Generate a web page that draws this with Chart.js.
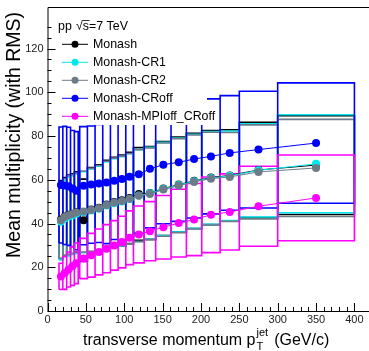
<!DOCTYPE html>
<html>
<head>
<meta charset="utf-8">
<script src="https://cdn.jsdelivr.net/npm/chart.js@4.4.0/dist/chart.umd.min.js"></script>
<style>
  html, body { margin: 0; padding: 0; background: #fff; }
  #wrap { width: 369px; height: 351px; }
</style>
</head>
<body>
<div id="wrap"><canvas id="chart" width="369" height="351"></canvas></div>
<script>
// jet pT bins (GeV/c)
const binLow  = [15, 20, 25, 30, 35, 42, 52, 62, 72, 82, 92, 102, 112, 126, 141, 161, 181, 201, 225, 250, 300];
const binHigh = [20, 25, 30, 35, 40, 52, 62, 72, 82, 92, 102, 112, 126, 141, 161, 181, 201, 225, 250, 300, 400];

// mean multiplicity and RMS per tune
const meanMonash = [41.8, 43.2, 44.0, 44.5, 45.2, 41.5, 46.4, 47.2, 48.7, 49.8, 50.6, 51.7, 53.5, 54.0, 56.0, 57.8, 59.5, 61.0, 62.0, 64.5, 66.7];
const rmsMonash  = [17.8, 17.8, 18.2, 18.2, 18.4, 18.8, 19.2, 19.6, 20.2, 20.5, 20.7, 20.9, 21.2, 21.2, 21.5, 21.7, 21.8, 21.5, 20.8, 21.8, 22.6];
const meanCR1 = [40.8, 42.3, 43.2, 43.8, 44.5, 45.2, 46.0, 46.8, 48.2, 49.3, 50.1, 51.2, 52.8, 53.8, 55.8, 57.6, 59.3, 60.8, 61.8, 64.3, 67.3];
const rmsCR1  = [17.5, 17.5, 18.0, 18.0, 18.2, 18.5, 19.0, 19.4, 20.0, 20.3, 20.5, 20.7, 21.0, 21.0, 21.3, 21.5, 21.5, 21.2, 20.5, 21.3, 22.4];
const meanCR2 = [41.5, 43.0, 43.8, 44.3, 45.0, 45.5, 46.2, 47.0, 48.5, 49.6, 50.3, 51.3, 52.7, 53.5, 55.5, 57.3, 59.0, 60.5, 61.3, 63.6, 65.4];
const rmsCR2  = [17.5, 17.5, 18.0, 18.0, 18.0, 18.5, 19.0, 19.5, 20.0, 20.3, 20.5, 20.7, 21.0, 21.0, 21.3, 21.5, 21.5, 21.2, 20.3, 21.5, 22.2];
const meanCRoff = [57.6, 57.4, 57.0, 56.0, 55.0, 57.3, 57.8, 58.3, 58.8, 59.5, 60.4, 61.4, 62.5, 65.0, 66.9, 68.0, 69.5, 70.7, 72.3, 73.8, 76.8];
const rmsCRoff  = [26.5, 27.0, 27.0, 26.5, 27.0, 27.0, 26.8, 27.0, 28.0, 26.8, 28.0, 27.0, 27.0, 27.0, 27.0, 27.0, 27.0, 26.3, 26.2, 26.7, 27.5];
const meanMPIoff = [15.8, 17.4, 19.0, 20.5, 21.8, 24.0, 25.5, 27.0, 28.5, 30.0, 31.5, 33.5, 35.0, 36.5, 38.3, 40.2, 41.8, 44.0, 45.3, 47.9, 51.7];
const rmsMPIoff  = [6.0, 7.5, 8.0, 8.8, 9.3, 9.2, 10.0, 10.5, 11.0, 11.3, 11.8, 12.3, 13.0, 13.5, 14.5, 15.5, 16.5, 17.3, 17.4, 18.3, 19.6];

const tuneNames = ["Monash", "Monash-CR1", "Monash-CR2", "Monash-CRoff", "Monash-MPIoff_CRoff"];
const tuneColors = ["#000000", "#00eaf0", "#6d7b88", "#0000ff", "#ff00ff"];
const tuneMeans = [meanMonash, meanCR1, meanCR2, meanCRoff, meanMPIoff];
const tuneRms = [rmsMonash, rmsCR1, rmsCR2, rmsCRoff, rmsMPIoff];

const xTickLabels = [0, 50, 100, 150, 200, 250, 300, 350, 400];
const yTickLabels = [0, 20, 40, 60, 80, 100, 120];

const FONT = "'Liberation Sans', Arial, sans-serif";

// mean +- RMS rectangles, one closed outline per bin, split by nulls
function boxPoints(mean, rms) {
    const pts = [];
    for (let i = 0; i < mean.length; i++) {
        const lo = mean[i] - rms[i], hi = mean[i] + rms[i];
        pts.push({x: binLow[i], y: lo}, {x: binLow[i], y: hi}, {x: binHigh[i], y: hi},
                 {x: binHigh[i], y: lo}, {x: binLow[i], y: lo}, {x: binLow[i], y: null});
    }
    return pts;
}
function meanPoints(mean) {
    return mean.map((v, i) => ({x: (binLow[i] + binHigh[i]) / 2, y: v}));
}

const datasets = [];
tuneNames.forEach((name, k) => {
    datasets.push({
        label: name + " RMS",
        data: boxPoints(tuneMeans[k], tuneRms[k]),
        borderColor: tuneColors[k],
        borderWidth: 1.6,
        pointRadius: 0,
        spanGaps: false,
        fill: false,
        tension: 0,
        order: 20 - k
    });
});
tuneNames.forEach((name, k) => {
    datasets.push({
        label: name,
        data: meanPoints(tuneMeans[k]),
        borderColor: tuneColors[k],
        backgroundColor: tuneColors[k],
        borderWidth: 1,
        pointRadius: 4,
        pointBorderWidth: 0,
        fill: false,
        tension: 0,
        order: 10 - k
    });
});

// ROOT-like frame: inner tick marks, frame lines, legend, axis titles
const rootStyle = {
    id: "rootStyle",
    afterDatasetsDraw(chart) {
        const ctx = chart.ctx, a = chart.chartArea;
        const xs = chart.scales.x, ys = chart.scales.y;
        ctx.save();

        // legend pad (white, covers the boxes behind it)
        ctx.fillStyle = "#fff";
        ctx.fillRect(56, 10, 151, 115);
        ctx.fillStyle = "#000";
        ctx.font = "12.4px " + FONT;
        ctx.textBaseline = "middle";
        ctx.textAlign = "left";
        ctx.fillText("pp", 58, 27);
        ctx.fillText("\u221As=7 TeV", 76, 27);
        ctx.lineWidth = 0.8;
        ctx.beginPath(); ctx.moveTo(82.5, 20.5); ctx.lineTo(89.5, 20.5); ctx.stroke();
        tuneNames.forEach((name, k) => {
            const y = 44.3 + k * 18;
            ctx.strokeStyle = tuneColors[k];
            ctx.lineWidth = 1;
            ctx.beginPath(); ctx.moveTo(62, y); ctx.lineTo(88, y); ctx.stroke();
            ctx.fillStyle = tuneColors[k];
            ctx.beginPath(); ctx.arc(75, y, 3.5, 0, 2 * Math.PI); ctx.fill();
            ctx.fillStyle = "#000";
            ctx.fillText(name, 93, y);
        });

        // frame
        ctx.strokeStyle = "#000";
        ctx.lineWidth = 1;
        ctx.beginPath();
        ctx.moveTo(a.right, a.top + 0.5); ctx.lineTo(a.left + 0.5, a.top + 0.5);
        ctx.lineTo(a.left + 0.5, a.bottom + 0.5); ctx.lineTo(a.right, a.bottom + 0.5);
        ctx.stroke();

        // inner ticks
        ctx.beginPath();
        xs.ticks.forEach(t => {
            if (t.value % 10 !== 0) return;
            const px = Math.round(xs.getPixelForValue(t.value)) + 0.5;
            const len = t.value % 50 === 0 ? 8 : 4;
            ctx.moveTo(px, a.bottom); ctx.lineTo(px, a.bottom - len);
        });
        ys.ticks.forEach(t => {
            if (t.value % 5 !== 0) return;
            const py = Math.round(ys.getPixelForValue(t.value)) + 0.5;
            const len = t.value % 20 === 0 ? 8 : 4;
            ctx.moveTo(a.left, py); ctx.lineTo(a.left + len, py);
        });
        ctx.stroke();

        // y title
        ctx.fillStyle = "#000";
        ctx.save();
        ctx.translate(15, 12);
        ctx.rotate(-Math.PI / 2);
        ctx.textAlign = "right";
        ctx.textBaseline = "middle";
        ctx.font = "19.5px " + FONT;
        ctx.fillText("Mean multiplicity (with RMS)", 0, 0);
        ctx.restore();

        // x title with p_T^jet
        ctx.font = "16px " + FONT;
        ctx.textAlign = "left";
        ctx.textBaseline = "alphabetic";
        const base = 345;
        let x = 83;
        const main = "transverse momentum p";
        ctx.fillText(main, x, base);
        x += ctx.measureText(main).width + 1;
        ctx.font = "11px " + FONT;
        ctx.fillText("jet", x, base - 9);
        ctx.fillText("T", x, base + 5);
        x += ctx.measureText("jet").width + 6;
        ctx.font = "16px " + FONT;
        ctx.fillText("(GeV/c)", x, base);

        ctx.restore();
    }
};

new Chart(document.getElementById("chart"), {
    type: "line",
    data: { datasets },
    plugins: [rootStyle],
    options: {
        responsive: false,
        devicePixelRatio: 1,
        animation: false,
        layout: { autoPadding: false, padding: { top: 7, right: 0, left: 0, bottom: 0 } },
        plugins: { legend: { display: false }, tooltip: { enabled: false } },
        scales: {
            x: {
                type: "linear",
                min: 0,
                max: 419,
                afterFit: s => { s.height = 40; s.paddingRight = 0; s.paddingLeft = 0; },
                grid: { display: false, drawTicks: false },
                border: { display: false },
                ticks: {
                    stepSize: 10,
                    autoSkip: false,
                    maxRotation: 0,
                    padding: 2,
                    color: "#222",
                    font: { family: FONT, size: 11 },
                    callback: v => xTickLabels.includes(v) ? String(v) : ""
                }
            },
            y: {
                min: 0,
                max: 139,
                afterFit: s => { s.width = 47.5; s.paddingTop = 0; s.paddingBottom = 0; },
                grid: { display: false, drawTicks: false },
                border: { display: false },
                ticks: {
                    stepSize: 5,
                    autoSkip: false,
                    padding: 4,
                    color: "#222",
                    font: { family: FONT, size: 11 },
                    callback: v => yTickLabels.includes(v) ? String(v) : ""
                }
            }
        }
    }
});
</script>
</body>
</html>
